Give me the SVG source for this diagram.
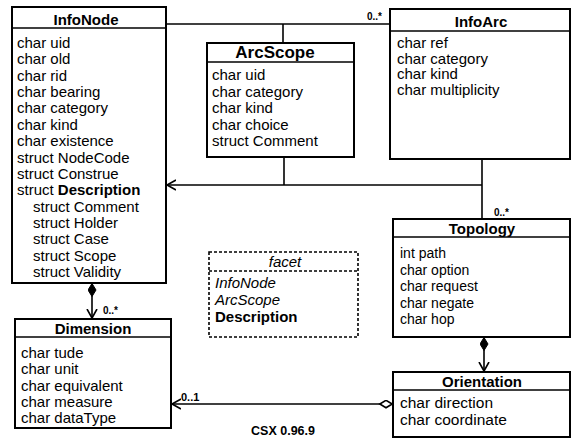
<svg xmlns="http://www.w3.org/2000/svg" width="572" height="439" viewBox="0 0 572 439">
<defs>
<style>
text{font-family:"Liberation Sans",Arial,sans-serif;fill:#000}
.box{fill:#fff;stroke:#000;stroke-width:2}
.dash{fill:#fff;stroke:#000;stroke-width:1.6;stroke-dasharray:3,2}
.hdr{stroke:#000;stroke-width:1.6}
.t{font-size:15px;font-weight:bold;text-anchor:middle}
.a{font-size:15px}
.b{font-weight:bold}
.i{font-style:italic}
.lbl{font-size:10px;font-weight:bold}
.con{fill:none;stroke:#000;stroke-width:1.6}
</style>
<marker id="arr" markerUnits="userSpaceOnUse" markerWidth="12" markerHeight="12" refX="9" refY="5" orient="auto" viewBox="0 0 12 10">
<path d="M0,0 L9,5 L0,10" fill="none" stroke="#000" stroke-width="1.6"/>
</marker>
<marker id="dfill" markerUnits="userSpaceOnUse" markerWidth="15" markerHeight="9" refX="0" refY="4.5" orient="auto" viewBox="0 0 15 9">
<path d="M0.5,4.5 L7,0.5 L13.5,4.5 L7,8.5 Z" fill="#000" stroke="#000" stroke-width="1"/>
</marker>
<marker id="dopen" markerUnits="userSpaceOnUse" markerWidth="15" markerHeight="9" refX="0" refY="4.5" orient="auto" viewBox="0 0 15 9">
<path d="M0.8,4.5 L7,0.8 L13.2,4.5 L7,8.2 Z" fill="#fff" stroke="#000" stroke-width="1.6"/>
</marker>
</defs>
<rect width="572" height="439" fill="#fff"/>

<g id="connectors">
<line class="con" x1="166" y1="24" x2="390" y2="24"/>
<line class="con" x1="283" y1="24" x2="283" y2="43"/>
<line class="con" x1="284" y1="157" x2="284" y2="185"/>
<line class="con" x1="482" y1="185" x2="167" y2="185" marker-end="url(#arr)"/>
<line class="con" x1="482" y1="159" x2="482" y2="219"/>
<line class="con" x1="92" y1="283" x2="92" y2="318" marker-start="url(#dfill)" marker-end="url(#arr)"/>
<line class="con" x1="484" y1="337" x2="484" y2="371" marker-start="url(#dfill)" marker-end="url(#arr)"/>
<line class="con" x1="393" y1="404" x2="172" y2="404" marker-start="url(#dopen)" marker-end="url(#arr)"/>
<text class="lbl" x="367" y="20">0..*</text>
<text class="lbl" x="494" y="216">0..*</text>
<text class="lbl" x="103" y="314">0..*</text>
<text class="lbl" x="181" y="401" style="font-size:11px">0..1</text>
</g>

<g id="InfoNode">
<rect class="box" x="12" y="7" width="154" height="276"/>
<line class="hdr" x1="12" y1="28" x2="166" y2="28"/>
<text class="t" x="86" y="25">InfoNode</text>
<text class="a" x="17" y="48">char uid</text>
<text class="a" x="17" y="64.4">char old</text>
<text class="a" x="17" y="80.7">char rid</text>
<text class="a" x="17" y="97">char bearing</text>
<text class="a" x="17" y="113.4">char category</text>
<text class="a" x="17" y="129.8">char kind</text>
<text class="a" x="17" y="146.1">char existence</text>
<text class="a" x="17" y="162.5">struct NodeCode</text>
<text class="a" x="17" y="178.8">struct Construe</text>
<text class="a" x="17" y="195.2">struct <tspan class="b">Description</tspan></text>
<text class="a" x="33" y="211.5">struct Comment</text>
<text class="a" x="33" y="227.9">struct Holder</text>
<text class="a" x="33" y="244.2">struct Case</text>
<text class="a" x="33" y="260.6">struct Scope</text>
<text class="a" x="33" y="277">struct Validity</text>
</g>

<g id="ArcScope">
<rect class="box" x="207" y="43" width="147" height="114"/>
<line class="hdr" x1="207" y1="62" x2="354" y2="62"/>
<text class="t" x="275" y="58" style="font-size:17px">ArcScope</text>
<text class="a" x="212" y="80">char uid</text>
<text class="a" x="212" y="96.5">char category</text>
<text class="a" x="212" y="113">char kind</text>
<text class="a" x="212" y="129.5">char choice</text>
<text class="a" x="212" y="146">struct Comment</text>
</g>

<g id="InfoArc">
<rect class="box" x="390" y="9" width="180" height="150"/>
<line class="hdr" x1="390" y1="31" x2="570" y2="31"/>
<text class="t" x="481" y="27">InfoArc</text>
<text class="a" x="397" y="48">char ref</text>
<text class="a" x="397" y="63.5">char category</text>
<text class="a" x="397" y="79">char kind</text>
<text class="a" x="397" y="94.5">char multiplicity</text>
</g>

<g id="Topology">
<rect class="box" x="393" y="219" width="177" height="118"/>
<line class="hdr" x1="393" y1="237" x2="570" y2="237"/>
<text class="t" x="482" y="234">Topology</text>
<text class="a" x="400" y="258" style="font-size:14px">int path</text>
<text class="a" x="400" y="274.5" style="font-size:14px">char option</text>
<text class="a" x="400" y="291" style="font-size:14px">char request</text>
<text class="a" x="400" y="307.5" style="font-size:14px">char negate</text>
<text class="a" x="400" y="324" style="font-size:14px">char hop</text>
</g>

<g id="Orientation">
<rect class="box" x="393" y="372" width="177" height="65"/>
<line class="hdr" x1="393" y1="390" x2="570" y2="390"/>
<text class="t" x="482" y="387">Orientation</text>
<text class="a" x="400" y="408" style="font-size:15.5px">char direction</text>
<text class="a" x="400" y="425" style="font-size:15.5px">char coordinate</text>
</g>

<g id="Dimension">
<rect class="box" x="15" y="319" width="156" height="109"/>
<line class="hdr" x1="15" y1="337" x2="171" y2="337"/>
<text class="t" x="93" y="334">Dimension</text>
<text class="a" x="21" y="358">char tude</text>
<text class="a" x="21" y="374.3">char unit</text>
<text class="a" x="21" y="390.5">char equivalent</text>
<text class="a" x="21" y="406.8">char measure</text>
<text class="a" x="21" y="423">char dataType</text>
</g>

<g id="facet">
<rect class="dash" x="209" y="252" width="149" height="85"/>
<line class="dash" x1="209" y1="271" x2="358" y2="271"/>
<text class="a i" x="285" y="267" text-anchor="middle">facet</text>
<text class="a i" x="215" y="288">InfoNode</text>
<text class="a i" x="215" y="305">ArcScope</text>
<text class="a b" x="215" y="322">Description</text>
</g>

<g id="caption">
<text x="283" y="435" text-anchor="middle" style="font-size:12.5px;font-weight:bold">CSX 0.96.9</text>
</g>
</svg>
